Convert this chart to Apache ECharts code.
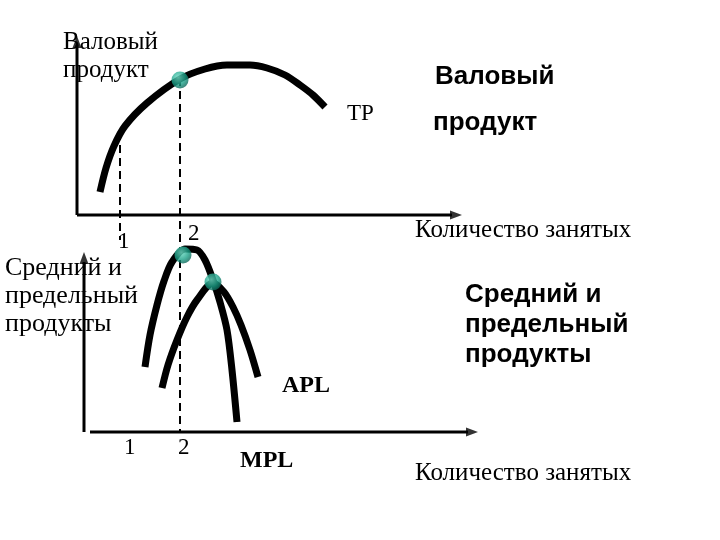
<!DOCTYPE html>
<html><head><meta charset="utf-8">
<script src="https://cdn.jsdelivr.net/npm/echarts@6/dist/echarts.min.js"></script>
<style>html,body{margin:0;background:#fff}#c{width:720px;height:540px}</style></head>
<body><div id="c"></div>
<script>
// diagram coordinates (x right, y down)
const tpCurve=[[100,192],[106,168],[114,146],[125,126],[147,103],[180,79],[205,69],[227,65],[250,65],[267,68],[285,75],[300,85],[313,95],[325,107]];
const mplCurve=[[145,367],[150,335],[157,305],[164,281],[172,262],[185,249],[197,250],[205,260],[213,280],[220,302],[227,330],[232,370],[237,422]];
const aplCurve=[[162,388],[168,365],[177,340],[187,317],[197,300],[213,283],[224,292],[233,307],[241,325],[250,350],[258,377]];
const topXAxis=[[77,215],[452,215]];
const topYAxis=[[77,215],[77,45]];
const botXAxis=[[90,432],[468,432]];
const botYAxis=[[84,432],[84,262]];
const dash1=[[120,132],[120,240]];
const dash2=[[180,78],[180,432]];
const points=[[180,80],[183,255],[213,282]];
const arrows=[[456,215,-90],[77,42,0],[472,432,-90],[84,258,0]];

const black='#000';
function line(data,w,dash){return {type:'line',data,symbol:'none',smooth:dash?false:0.3,lineStyle:{color:black,width:w,type:dash?[8,5]:'solid'},z:dash?1:3,animation:false};}
const T=(t,x,y,font,size,weight)=>({type:'text',left:x,top:y,style:{text:t,font:(weight||'normal')+' '+size+'px '+font,fill:'#000'}});
const serif='"Liberation Serif"',sans='"Liberation Sans"';
const chart=echarts.init(document.getElementById('c'));
chart.setOption({
 animation:false,
 grid:{left:0,right:0,top:0,bottom:0},
 xAxis:{type:'value',min:0,max:720,show:false},
 yAxis:{type:'value',min:0,max:540,inverse:true,show:false},
 series:[
  line(topXAxis,3),line(topYAxis,3),line(botXAxis,3),line(botYAxis,3),
  line(dash1,2,true),line(dash2,2,true),
  line(tpCurve,7),line(mplCurve,7),line(aplCurve,7),
  {type:'scatter',data:arrows.map(a=>({value:[a[0],a[1]],symbolRotate:a[2]})),symbol:'triangle',symbolSize:[9,12],itemStyle:{color:black},z:4},
  {type:'scatter',data:points,symbolSize:17,itemStyle:{color:{type:'radial',x:0.4,y:0.35,r:0.7,colorStops:[{offset:0,color:'#6fe0c8'},{offset:0.6,color:'#1a9f86'},{offset:1,color:'#0b5e52'}]}},z:5}
 ],
 graphic:[
  {type:'text',left:63,top:28,style:{text:'Валовый\nпродукт',font:'25px '+serif,fill:'#000',lineHeight:28}},
  T('Валовый',435,64,sans,26,'bold'),
  T('продукт',433,110,sans,26,'bold'),
  T('TP',347,102,serif,23),
  T('Количество занятых',415,218,serif,25),
  T('1',118,230,serif,23),T('2',188,222,serif,23),
  {type:'text',left:5,top:254,style:{text:'Средний и\nпредельный\nпродукты',font:'26px '+serif,fill:'#000',lineHeight:28}},
  {type:'text',left:465,top:280,style:{text:'Средний и\nпредельный\nпродукты',font:'bold 26px '+sans,fill:'#000',lineHeight:30}},
  T('APL',282,374,serif,24,'bold'),
  T('1',124,436,serif,23),T('2',178,436,serif,23),
  T('MPL',240,449,serif,24,'bold'),
  T('Количество занятых',415,461,serif,25)
 ]
});
</script></body></html>
